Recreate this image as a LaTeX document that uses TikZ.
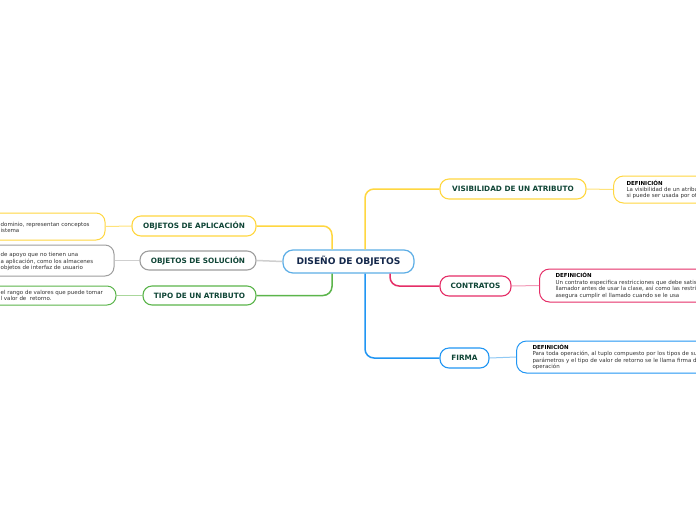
\documentclass[tikz,border=0pt]{standalone}
\usepackage{fontspec}
\setmainfont{DejaVu Sans}
\definecolor{cyel}{HTML}{FFD740}
\definecolor{cyell}{HTML}{FFE37A}
\definecolor{cpink}{HTML}{E52E67}
\definecolor{cpinkl}{HTML}{F29BB8}
\definecolor{cblue}{HTML}{2196F3}
\definecolor{cbluel}{HTML}{90C9F4}
\definecolor{ccen}{HTML}{5DAEE6}
\definecolor{cgreen}{HTML}{5BB54B}
\definecolor{cgreenl}{HTML}{A9D79B}
\definecolor{cgray}{HTML}{9E9E9E}
\definecolor{cgrayl}{HTML}{CFCFCF}
\definecolor{ctxt}{HTML}{0F4536}
\definecolor{cnavy}{HTML}{14284B}
\definecolor{cleaf}{HTML}{333333}
\tikzset{
  topic/.style={draw, fill=white, rounded corners=9pt, line width=1.1pt, inner sep=0pt,
    font=\fontsize{7.3}{8}\selectfont\bfseries, text=ctxt},
  leafbox/.style={draw, fill=white, rounded corners=9pt, line width=1pt, inner sep=0pt},
  leaftext/.style={inner sep=0pt, align=left, font=\fontsize{5.5}{6.4}\selectfont, text=cleaf},
  rleaf/.style={draw, fill=white, rounded corners=10pt, line width=1pt, anchor=west,
    inner xsep=15pt, inner ysep=0pt, text width=200pt, align=left,
    font=\fontsize{5.5}{6.4}\selectfont, text=cleaf},
  branch/.style={line width=1.5pt, rounded corners=9pt},
  twig/.style={line width=1pt}
}
\begin{document}
\begin{tikzpicture}[x=1pt,y=-1pt]
\clip (0,0) rectangle (696,520);
\fill[white] (0,0) rectangle (696,520);

% central
\node[draw=ccen, fill=white, rounded corners=10pt, line width=1.2pt, inner sep=0pt,
  minimum width=131pt, minimum height=23pt, font=\fontsize{9.1}{10}\selectfont\bfseries, text=cnavy]
  (cen) at (348.5,261.5) {DISEÑO DE OBJETOS};

% left topics
\node[topic, draw=cyel, minimum width=124pt, minimum height=20pt] (apl) at (194,226) {OBJETOS DE APLICACIÓN};
\node[topic, draw=cgray, minimum width=116pt, minimum height=19pt] (sol) at (198,260.5) {OBJETOS DE SOLUCIÓN};
\node[topic, draw=cgreen, minimum width=113pt, minimum height=19pt] (tipo) at (199.5,295.5) {TIPO DE UN ATRIBUTO};

% right topics
\node[topic, draw=cyel, minimum width=146pt, minimum height=20pt] (vis) at (513,189) {VISIBILIDAD DE UN ATRIBUTO};
\node[topic, draw=cpink, minimum width=71pt, minimum height=20pt] (con) at (475.5,286) {CONTRATOS};
\node[topic, draw=cblue, minimum width=49pt, minimum height=20pt] (fir) at (464.5,358) {FIRMA};

% left leaves
\node[leafbox, draw=cyel, minimum width=135pt, minimum height=27pt] (la) at (37.5,226.5) {};
\node[leaftext, anchor=west] (lat) at (0.5,227.5) {dominio, representan conceptos\\istema};
\node[leafbox, draw=cgray, minimum width=144pt, minimum height=31pt] (ls) at (42,260.5) {};
\node[leaftext, anchor=west] (lst) at (0.5,261.5) {de apoyo que no tienen una\\a aplicación, como los almacenes\\objetos de interfaz de usuario};
\node[leafbox, draw=cgreen, minimum width=146pt, minimum height=19pt] (lt) at (43,295.5) {};
\node[leaftext, anchor=west] (ltt) at (0.5,295.5) {el rango de valores que puede tomar\\l valor de \ retorno.};

% right leaves
\node[rleaf, draw=cyel, minimum height=27pt, inner xsep=13pt] (rv) at (613,189.5)
  {{\bfseries\color{black}DEFINICIÓN}\\La visibilidad de un atribu\\si puede ser usada por ot};
\node[rleaf, draw=cpink, minimum height=33pt, inner xsep=16pt] (rc) at (539,285.5)
  {{\bfseries\color{black}DEFINICIÓN}\\Un contrato especifica restricciones que debe satisf\\llamador antes de usar la clase, así como las restri\\asegura cumplir el llamado cuando se le usa};
\node[rleaf, draw=cblue, minimum height=32pt, inner xsep=16pt] (rf) at (516,357)
  {{\bfseries\color{black}DEFINICIÓN}\\Para toda operación, al tuplo compuesto por los tipos de su\\parámetros y el tipo de valor de retorno se le llama firma d\\operación};

% branches from centre
\draw[branch, cyel] ([xshift=16.5pt]cen.north) |- (vis.west);
\draw[branch, cpink] ([xshift=41.5pt]cen.south) |- (con.west);
\draw[branch, cblue] ([xshift=16.5pt]cen.south) |- (fir.west);
\draw[branch, cyel] ([xshift=-16.5pt]cen.north) |- (apl.east);
\draw[branch, cgrayl] (cen.west) -- (sol.east);
\draw[branch, cgreen] ([xshift=-16.5pt]cen.south) |- (tipo.east);

% twigs to leaves
\draw[twig, cyell] (apl.west) -- (la.east);
\draw[twig, cgrayl] (sol.west) -- (ls.east);
\draw[twig, cgreenl] (tipo.west) -- (lt.east);
\draw[twig, cyell] (vis.east) -- (rv.west);
\draw[twig, cpinkl] (con.east) -- (rc.west);
\draw[twig, cbluel] (fir.east) -- (rf.west);
\end{tikzpicture}
\end{document}
